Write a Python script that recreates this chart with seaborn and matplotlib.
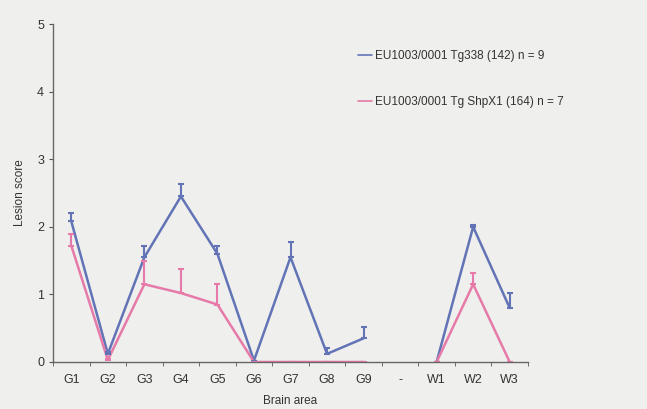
import numpy as np
import pandas as pd
import matplotlib
matplotlib.use('Agg')
import matplotlib.pyplot as plt
import seaborn as sns

# data
areas = ['G1', 'G2', 'G3', 'G4', 'G5', 'G6', 'G7', 'G8', 'G9', '-', 'W1', 'W2', 'W3']
segment = ['grey'] * 9 + ['gap'] + ['white'] * 3

tg338_label = 'EU1003/0001 Tg338 (142) n = 9'
tg338_score = [2.08, 0.12, 1.55, 2.45, 1.60, 0.02, 1.55, 0.12, 0.35, np.nan, 0.00, 2.00, 0.80]
tg338_err = [0.13, 0.03, 0.17, 0.18, 0.12, 0.00, 0.23, 0.08, 0.17, np.nan, 0.00, 0.03, 0.22]

shp_label = 'EU1003/0001 Tg ShpX1 (164) n = 7'
shp_score = [1.72, 0.03, 1.15, 1.02, 0.85, 0.00, 0.00, 0.00, 0.00, np.nan, 0.00, 1.15, 0.00]
shp_err = [0.18, 0.02, 0.35, 0.35, 0.30, 0.00, 0.00, 0.00, 0.00, np.nan, 0.00, 0.17, 0.00]

BLUE = '#6274b6'
PINK = '#e67aa8'

rows = []
for label, scores, errs in [(tg338_label, tg338_score, tg338_err),
                            (shp_label, shp_score, shp_err)]:
    for i, (a, s, e) in enumerate(zip(areas, scores, errs)):
        rows.append({'pos': i, 'area': a, 'seg': segment[i],
                     'strain': label, 'score': s, 'err': e})
df = pd.DataFrame(rows)
df = df[df['seg'] != 'gap']

sns.set_style('white')
plt.rcParams['font.family'] = ['Liberation Sans', 'DejaVu Sans']

fig = plt.figure(figsize=(6.47, 4.09), dpi=100)
fig.patch.set_facecolor('#efefed')
ax = fig.add_axes([0.082, 0.115, 0.734, 0.826])
ax.set_facecolor('#efefed')

palette = {tg338_label: BLUE, shp_label: PINK}
sns.lineplot(data=df, x='pos', y='score', hue='strain', units='seg',
             estimator=None, palette=palette, linewidth=1.8, ax=ax,
             hue_order=[tg338_label, shp_label])

for label, color in palette.items():
    sub = df[df['strain'] == label]
    ax.errorbar(sub['pos'], sub['score'],
                yerr=[np.zeros(len(sub)), sub['err']],
                fmt='none', ecolor=color, elinewidth=1.5,
                capsize=2.5, capthick=1.5)

ax.set_xlim(-0.5, len(areas) - 0.5)
ax.set_ylim(0, 5)
ax.set_xticks(range(len(areas)))
ax.set_xticklabels(areas)
ax.set_xticks(np.arange(-0.5, len(areas), 1), minor=True)
ax.set_yticks(range(0, 6))
ax.tick_params(axis='x', which='major', length=0, pad=9, labelsize=9,
               colors='#333333')
ax.tick_params(axis='x', which='minor', length=3, direction='out',
               color='#555555', bottom=True)
ax.tick_params(axis='y', length=3, direction='out', left=True,
               labelsize=9, colors='#333333', color='#555555')

for side in ['top', 'right']:
    ax.spines[side].set_visible(False)
for side in ['left', 'bottom']:
    ax.spines[side].set_color('#666666')
    ax.spines[side].set_linewidth(1.0)

ax.set_xlabel('Brain area', fontsize=8.5, color='#333333', labelpad=6)
ax.set_ylabel('Lesion score', fontsize=8.5, color='#333333', labelpad=8)

leg = ax.legend(loc='upper left', bbox_to_anchor=(0.62, 0.955), frameon=False,
                fontsize=8.5, handlelength=1.2, handletextpad=0.2,
                labelspacing=2.9)
for line in leg.get_lines():
    line.set_linewidth(1.2)
for t in leg.get_texts():
    t.set_color('#333333')

fig.savefig('out.png', dpi=100, facecolor=fig.get_facecolor())
